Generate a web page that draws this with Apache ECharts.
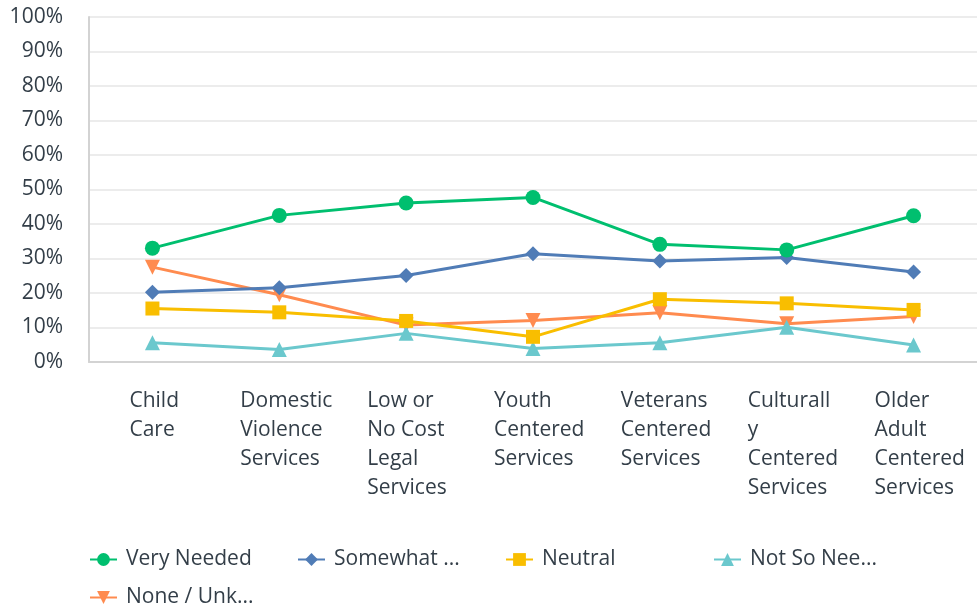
<!DOCTYPE html>
<html>
<head>
<meta charset="utf-8">
<script src="https://cdn.jsdelivr.net/npm/echarts@6/dist/echarts.min.js"></script>
<style>
  html, body { margin: 0; padding: 0; background: #fff; }
  #chart { width: 977px; height: 610px; }
</style>
</head>
<body>
<div id="chart"></div>
<script>
var categories = [
  'Child\nCare',
  'Domestic\nViolence\nServices',
  'Low or\nNo Cost\nLegal\nServices',
  'Youth\nCentered\nServices',
  'Veterans\nCentered\nServices',
  'Culturall\ny\nCentered\nServices',
  'Older\nAdult\nCentered\nServices'
]
var seriesNames = ['Very Needed', 'Somewhat Needed', 'Neutral', 'Not So Needed', 'None / Unknown']
var veryNeeded = [33.0, 42.5, 46.1, 47.7, 34.1, 32.5, 42.4]
var somewhatNeeded = [20.2, 21.5, 25.1, 31.4, 29.3, 30.3, 26.1]
var neutral = [15.5, 14.4, 11.9, 7.3, 18.2, 17.0, 15.1]
var notSoNeeded = [5.6, 3.6, 8.3, 3.9, 5.6, 10.1, 4.9]
var noneUnknown = [27.5, 19.5, 10.7, 12.0, 14.3, 11.1, 13.2]
var yTicks = [0, 10, 20, 30, 40, 50, 60, 70, 80, 90, 100]

var colors = ['#00bf6f', '#507cb6', '#f9be00', '#6bc8cd', '#ff8b4f']
var symbols = ['circle', 'diamond', 'rect', 'triangle', 'triangle']
var values = [veryNeeded, somewhatNeeded, neutral, notSoNeeded, noneUnknown]
var textColor = '#333e48'
var font = 'Open Sans'

var chart = echarts.init(document.getElementById('chart'))

var series = seriesNames.map(function (name, i) {
  return {
    name: name,
    type: 'line',
    data: values[i],
    z: 10 - i,
    symbol: symbols[i],
    symbolSize: symbols[i] === 'rect' ? 14 : 15,
    symbolRotate: i === 4 ? 180 : 0,
    showAllSymbol: true,
    color: colors[i],
    lineStyle: { width: 3, color: colors[i] },
    itemStyle: { color: colors[i] },
    emphasis: { disabled: true },
    animation: false
  }
})

chart.setOption({
  animation: false,
  grid: {
    left: 89,
    right: 0,
    top: 17,
    bottom: 248
  },
  legend: {
    left: 84,
    top: 538,
    width: 880,
    itemGap: 5,
    itemWidth: 27,
    itemHeight: 16,
    data: seriesNames,
    textStyle: {
      fontFamily: font,
      fontSize: 21,
      color: textColor,
      width: 134,
      overflow: 'truncate',
      ellipsis: '...',
      padding: [0, 32, 0, 4],
      lineHeight: 33
    }
  },
  xAxis: {
    type: 'category',
    data: categories,
    boundaryGap: true,
    axisLine: { show: true, lineStyle: { color: '#d3d3d3', width: 2 } },
    axisTick: { show: false },
    splitLine: { show: false },
    axisLabel: {
      interval: 0,
      margin: 25,
      lineHeight: 29,
      formatter: function (v, idx) {
        var key = idx === 0 ? 'b' : 'a'
        return v.split('\n').map(function (s) { return '{' + key + '|' + s + '}' }).join('\n')
      },
      rich: {
        a: {
          width: 78,
          align: 'left',
          fontFamily: font,
          fontSize: 21,
          color: textColor,
          lineHeight: 29
        },
        b: {
          width: 46,
          align: 'left',
          fontFamily: font,
          fontSize: 21,
          color: textColor,
          lineHeight: 29
        }
      }
    }
  },
  yAxis: {
    type: 'value',
    min: yTicks[0],
    max: yTicks[yTicks.length - 1],
    interval: 10,
    axisLine: { show: true, lineStyle: { color: '#d3d3d3', width: 2 } },
    axisTick: { show: false },
    splitLine: { show: true, lineStyle: { color: '#ececec', width: 2 } },
    axisLabel: {
      margin: 26,
      fontFamily: font,
      fontSize: 21,
      color: textColor,
      formatter: '{value}%'
    }
  },
  series: series
})
</script>
</body>
</html>
